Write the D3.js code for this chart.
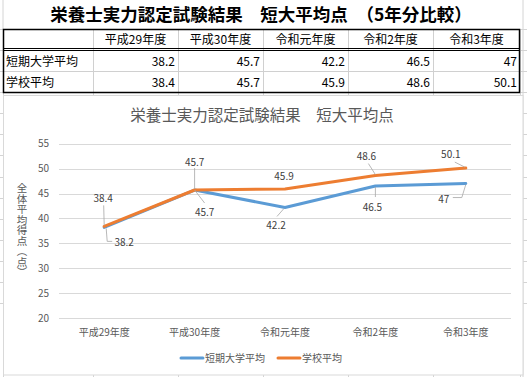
<!DOCTYPE html>
<html>
<head>
<meta charset="utf-8">
<script src="https://cdn.jsdelivr.net/npm/d3@7"></script>
<style>
  body { margin: 0; background: #fff; }
  svg { display: block; font-family: "Noto Sans CJK JP", "Noto Sans", sans-serif; }
</style>
</head>
<body>
<div id="chart"></div>
<script>
var years = ["平成29年度", "平成30年度", "令和元年度", "令和2年度", "令和3年度"];
var tankiValues = [38.2, 45.7, 42.2, 46.5, 47];
var gakkouValues = [38.4, 45.7, 45.9, 48.6, 50.1];
var yTicks = [20, 25, 30, 35, 40, 45, 50, 55];
var labelTexts = { tanki: ["38.2", "45.7", "42.2", "46.5", "47"], gakkou: ["38.4", "45.7", "45.9", "48.6", "50.1"] };

// label placement (offsets from the point) and leader lines
var tankiLabelPos = [
  {dx: 20, dy: 15, lead: [[2, 1], [3, 14], [8, 14]]},
  {dx: 10, dy: 22, lead: [[0, 0], [10, 13]]},
  {dx: -9, dy: 18, lead: [[-1, 1], [-8, 9]]},
  {dx: -3, dy: 21, lead: [[0, 1], [0, 11]]},
  {dx: -22, dy: 16, lead: [[0, 1], [-4, 14], [-13, 14]]}
];
var gakkouLabelPos = [
  {dx: -1, dy: -28, lead: [[0, -1], [-0.5, -21]]},
  {dx: 0, dy: -28, lead: [[0, -1], [0, -22]]},
  {dx: -1, dy: -13, lead: null},
  {dx: -9, dy: -19, lead: [[0, -1], [-7, -12]]},
  {dx: -15, dy: -14, lead: [[-1, -1], [-11, -6]]}
];

var width = 527, height = 377;
var svg = d3.select("#chart").append("svg")
    .attr("width", width)
    .attr("height", height);

// spreadsheet grid behind everything
var colLines = [3, 93, 178, 263, 348, 433, 520];
var rowLines = d3.range(0, 14).map(function(i) { return 29 + i * 21.15; });
var gridColor = "#d4d4d4";
rowLines.forEach(function(y) {
  svg.append("line").attr("x1", 0).attr("x2", width).attr("y1", y).attr("y2", y)
    .attr("stroke", gridColor).attr("stroke-width", 1).attr("shape-rendering", "crispEdges");
});
colLines.forEach(function(x) {
  svg.append("line").attr("x1", x).attr("x2", x).attr("y1", 29).attr("y2", height)
    .attr("stroke", gridColor).attr("stroke-width", 1).attr("shape-rendering", "crispEdges");
});
svg.append("line").attr("x1", 3).attr("x2", 3).attr("y1", 0).attr("y2", 29).attr("stroke", gridColor);
svg.append("line").attr("x1", 523).attr("x2", 523).attr("y1", 0).attr("y2", height).attr("stroke", gridColor);
// title row is a merged cell
svg.append("rect").attr("x", 4).attr("y", 0).attr("width", 518).attr("height", 28.5).attr("fill", "#fff");

svg.append("text")
  .attr("x", 261).attr("y", 21)
  .attr("text-anchor", "middle")
  .attr("font-size", 17.5).attr("font-weight", "bold").attr("fill", "#000")
  .text("栄養士実力認定試験結果　短大平均点　（5年分比較）");

// table
var tblLeft = 3, tblRight = 520, tblTop = 29, tblBottom = 93;
var cols = [3, 93, 178, 263, 348, 433, 520];
svg.append("rect").attr("x", tblLeft).attr("y", tblTop).attr("width", tblRight - tblLeft).attr("height", tblBottom - tblTop)
  .attr("fill", "#fff");
for (var i = 1; i < cols.length - 1; i++) {
  svg.append("line").attr("x1", cols[i] + 0.5).attr("x2", cols[i] + 0.5).attr("y1", tblTop).attr("y2", tblBottom)
    .attr("stroke", "#d0d0d0");
}
svg.append("line").attr("x1", tblLeft).attr("x2", tblRight).attr("y1", 71.5).attr("y2", 71.5).attr("stroke", "#d0d0d0");
svg.append("line").attr("x1", tblLeft).attr("x2", tblRight).attr("y1", 48.5).attr("y2", 48.5).attr("stroke", "#000");
svg.append("line").attr("x1", tblLeft).attr("x2", tblRight).attr("y1", 50.5).attr("y2", 50.5).attr("stroke", "#000");
svg.append("rect").attr("x", tblLeft + 0.5).attr("y", tblTop + 0.5).attr("width", tblRight - tblLeft - 1).attr("height", tblBottom - tblTop - 1)
  .attr("fill", "none").attr("stroke", "#000").attr("stroke-width", 1.5);

years.forEach(function(y, i) {
  svg.append("text")
    .attr("x", (cols[i + 1] + cols[i + 2]) / 2).attr("y", 43.5)
    .attr("text-anchor", "middle").attr("font-size", 12).attr("fill", "#000")
    .text(y);
});
var tableRows = [["短期大学平均", tankiValues, 65.5], ["学校平均", gakkouValues, 87]];
tableRows.forEach(function(r) {
  svg.append("text").attr("x", 6).attr("y", r[2]).attr("font-size", 12).attr("fill", "#000").text(r[0]);
  r[1].forEach(function(v, i) {
    svg.append("text")
      .attr("x", cols[i + 2] - 3).attr("y", r[2])
      .attr("text-anchor", "end").attr("font-size", 12).attr("fill", "#000")
      .text(v);
  });
});

// chart object
svg.append("rect").attr("x", 3.5).attr("y", 95.5).attr("width", 519.5).attr("height", 279.5)
  .attr("fill", "#fff").attr("stroke", "#d9d9d9").attr("stroke-width", 1);

svg.append("text")
  .attr("x", 262).attr("y", 121)
  .attr("text-anchor", "middle").attr("font-size", 15.5).attr("fill", "#595959")
  .text("栄養士実力認定試験結果　短大平均点");

var xScale = d3.scaleBand().domain(years).range([59, 511]);
var yScale = d3.scaleLinear().domain([20, 55]).range([318, 143.7]);

var yAxis = svg.append("g")
  .attr("transform", "translate(59,0)")
  .call(d3.axisLeft(yScale).tickValues(yTicks).tickSize(-452).tickPadding(10));
yAxis.select(".domain").remove();
yAxis.selectAll(".tick line").attr("stroke", "#d9d9d9").attr("shape-rendering", "crispEdges");
yAxis.selectAll(".tick text").attr("fill", "#595959").attr("font-size", 10)
  .attr("font-family", "'Noto Sans CJK JP', sans-serif");

var xAxis = svg.append("g")
  .attr("transform", "translate(0,318)")
  .call(d3.axisBottom(xScale).tickSize(0).tickPadding(11));
xAxis.select(".domain").remove();
xAxis.selectAll(".tick text").attr("fill", "#595959").attr("font-size", 10)
  .attr("font-family", "'Noto Sans CJK JP', sans-serif");

// vertical y-axis title
svg.append("text")
  .attr("x", 22).attr("y", 183)
  .attr("font-size", 10.5).attr("fill", "#595959")
  .style("writing-mode", "vertical-rl")
  .text("全体平均得点（点）");

var line = d3.line()
  .x(function(d, i) { return xScale(years[i]) + xScale.bandwidth() / 2; })
  .y(function(d) { return yScale(d); });

var series = [
  {key: "tanki", values: tankiValues, color: "#5B9BD5", pos: tankiLabelPos},
  {key: "gakkou", values: gakkouValues, color: "#ED7D31", pos: gakkouLabelPos}
];

series.forEach(function(s) {
  svg.append("path")
    .datum(s.values)
    .attr("d", line)
    .attr("fill", "none")
    .attr("stroke", s.color)
    .attr("stroke-width", 3)
    .attr("stroke-linejoin", "round")
    .attr("stroke-linecap", "round");
});

series.forEach(function(s) {
  s.values.forEach(function(v, i) {
    var px = xScale(years[i]) + xScale.bandwidth() / 2;
    var py = yScale(v);
    var p = s.pos[i];
    if (p.lead) {
      svg.append("polyline")
        .attr("points", p.lead.map(function(q) { return (px + q[0]) + "," + (py + q[1]); }).join(" "))
        .attr("fill", "none").attr("stroke", "#a6a6a6").attr("stroke-width", 0.8);
    }
    svg.append("text")
      .attr("x", px + p.dx).attr("y", py + p.dy + 3.5)
      .attr("text-anchor", "middle").attr("font-size", 10).attr("fill", "#404040")
      .text(labelTexts[s.key][i]);
  });
});

// legend
var legend = [
  {name: "短期大学平均", color: "#5B9BD5", x: 181},
  {name: "学校平均", color: "#ED7D31", x: 278}
];
legend.forEach(function(l) {
  svg.append("line").attr("x1", l.x).attr("x2", l.x + 22).attr("y1", 358).attr("y2", 358)
    .attr("stroke", l.color).attr("stroke-width", 3).attr("stroke-linecap", "round");
  svg.append("text").attr("x", l.x + 24).attr("y", 361.5)
    .attr("font-size", 10).attr("fill", "#595959").text(l.name);
});
</script>
</body>
</html>
